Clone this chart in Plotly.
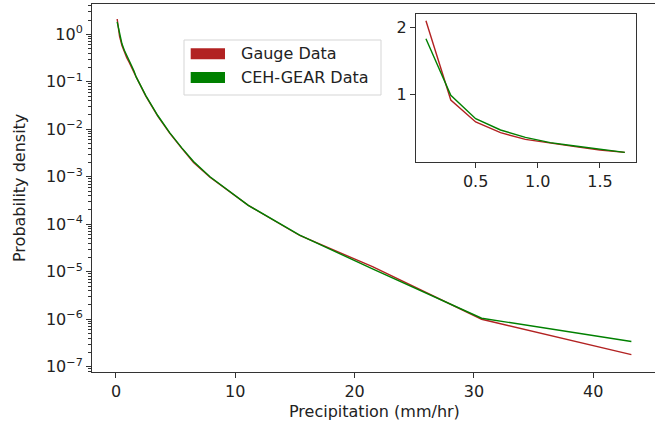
import plotly.graph_objects as go

# ---- data ----
precip = [0.1, 0.3, 0.5, 0.7, 0.9, 1.1, 1.3, 1.5, 1.7,
          2.5, 3.5, 4.5, 5.5, 6.5, 7.88, 11.09, 15.4, 21.5, 30.65, 43.2]
gauge = [2.1, 0.91, 0.58, 0.42, 0.32, 0.26, 0.21, 0.16, 0.125,
         0.050, 0.019, 0.0083, 0.0040, 0.0020, 9.8e-4, 2.5e-4, 5.8e-5, 1.28e-5, 1.0e-6, 1.8e-7]
cehgear = [1.83, 0.98, 0.63, 0.46, 0.35, 0.27, 0.22, 0.17, 0.125,
           0.051, 0.0195, 0.0085, 0.0041, 0.0021, 1.0e-3, 2.5e-4, 5.9e-5, 1.15e-5, 1.05e-6, 3.4e-7]
inset_max_x = 1.7
series_names = ["Gauge Data", "CEH-GEAR Data"]
colors = ["#b22222", "#008000"]

ytick_vals = [10.0 ** k for k in range(-7, 1)]
ytick_text = ["10<sup>%s</sup>" % (str(k).replace("-", "\u2212")) for k in range(-7, 1)]
ytick_minor = [m * 10.0 ** k for k in range(-8, 1) for m in range(2, 10)]
xtick_vals = [0, 10, 20, 30, 40]
inset_xticks = [0.5, 1.0, 1.5]
inset_yticks = [1, 2]

W, H = 655, 434
L, R, T, B = 92, 0, 4, 62
pw, ph = W - L - R, H - T - B


def px(xp):
    return (xp - L) / pw


def py(yp):
    return (H - B - yp) / ph


font = dict(family="DejaVu Sans", size=16, color="#222")
axcol = "#333"

fig = go.Figure()
for ys, name, c in zip([gauge, cehgear], series_names, colors):
    fig.add_trace(go.Scatter(x=precip, y=ys, mode="lines", name=name,
                             line=dict(color=c, width=1.4), showlegend=False,
                             xaxis="x", yaxis="y"))
for ys, name, c in zip([gauge, cehgear], series_names, colors):
    xi = [x for x in precip if x <= inset_max_x]
    yi = [y for x, y in zip(precip, ys) if x <= inset_max_x]
    fig.add_trace(go.Scatter(x=xi, y=yi, mode="lines", name=name,
                             line=dict(color=c, width=1.4), showlegend=False,
                             xaxis="x2", yaxis="y2"))

fig.update_layout(
    width=W, height=H,
    margin=dict(l=L, r=R, t=T, b=B, autoexpand=False),
    paper_bgcolor="white", plot_bgcolor="white",
    font=font,
    xaxis=dict(domain=[0, 1], range=[-2.01, 45.18], tickvals=xtick_vals,
               showgrid=False, zeroline=False, showline=True, linecolor=axcol,
               linewidth=1, mirror=True, ticks="outside", ticklen=5,
               tickcolor=axcol, tickfont=font, automargin=False),
    yaxis=dict(domain=[0, 1], type="log", range=[-7.111, 0.638],
               tickvals=ytick_vals, ticktext=ytick_text,
               showgrid=False, zeroline=False, showline=True, linecolor=axcol,
               linewidth=1, mirror=False, ticks="outside", ticklen=5,
               tickcolor=axcol, tickfont=font, automargin=False,
               minor=dict(tickvals=ytick_minor, ticks="outside", ticklen=3,
                          tickcolor=axcol, showgrid=False)),
    xaxis2=dict(domain=[px(416), px(636)], anchor="y2", range=[0.02, 1.79],
                tickvals=inset_xticks, ticktext=["0.5", "1.0", "1.5"],
                showgrid=False, zeroline=False, showline=True, linecolor=axcol,
                linewidth=1, mirror=True, ticks="outside", ticklen=5,
                tickcolor=axcol, tickfont=font, automargin=False),
    yaxis2=dict(domain=[py(162), py(14)], anchor="x2", range=[-0.02, 2.2],
                tickvals=inset_yticks, showgrid=False, zeroline=False,
                showline=True, linecolor=axcol, linewidth=1, mirror=True,
                ticks="outside", ticklen=5, tickcolor=axcol, tickfont=font,
                automargin=False),
)

shapes = [
    dict(type="rect", xref="paper", yref="paper", x0=px(184), x1=px(381),
         y0=py(95), y1=py(40), line=dict(color="#d5d5d5", width=1),
         fillcolor="rgba(255,255,255,0.85)", layer="above"),
]
annotations = [
    dict(text="Precipitation (mm/hr)", xref="paper", yref="paper", x=px(374),
         y=py(411), xanchor="center", yanchor="middle", showarrow=False, font=font),
    dict(text="Probability density", xref="paper", yref="paper", x=px(19),
         y=py(188), xanchor="center", yanchor="middle", textangle=-90,
         showarrow=False, font=font),
]
for i, (name, c) in enumerate(zip(series_names, colors)):
    yc = 53.8 + i * 23.6
    shapes.append(dict(type="rect", xref="paper", yref="paper", x0=px(190.7),
                       x1=px(225), y0=py(yc + 5.5), y1=py(yc - 5.5),
                       line=dict(width=0), fillcolor=c, layer="above"))
    annotations.append(dict(text=name, xref="paper", yref="paper", x=px(239),
                            y=py(yc), xanchor="left", yanchor="middle",
                            showarrow=False, font=font))
fig.update_layout(shapes=shapes, annotations=annotations)

fig.write_html("out.html", config={"displayModeBar": False},
               post_script="document.body.style.margin='0';document.body.style.overflow='hidden';")
